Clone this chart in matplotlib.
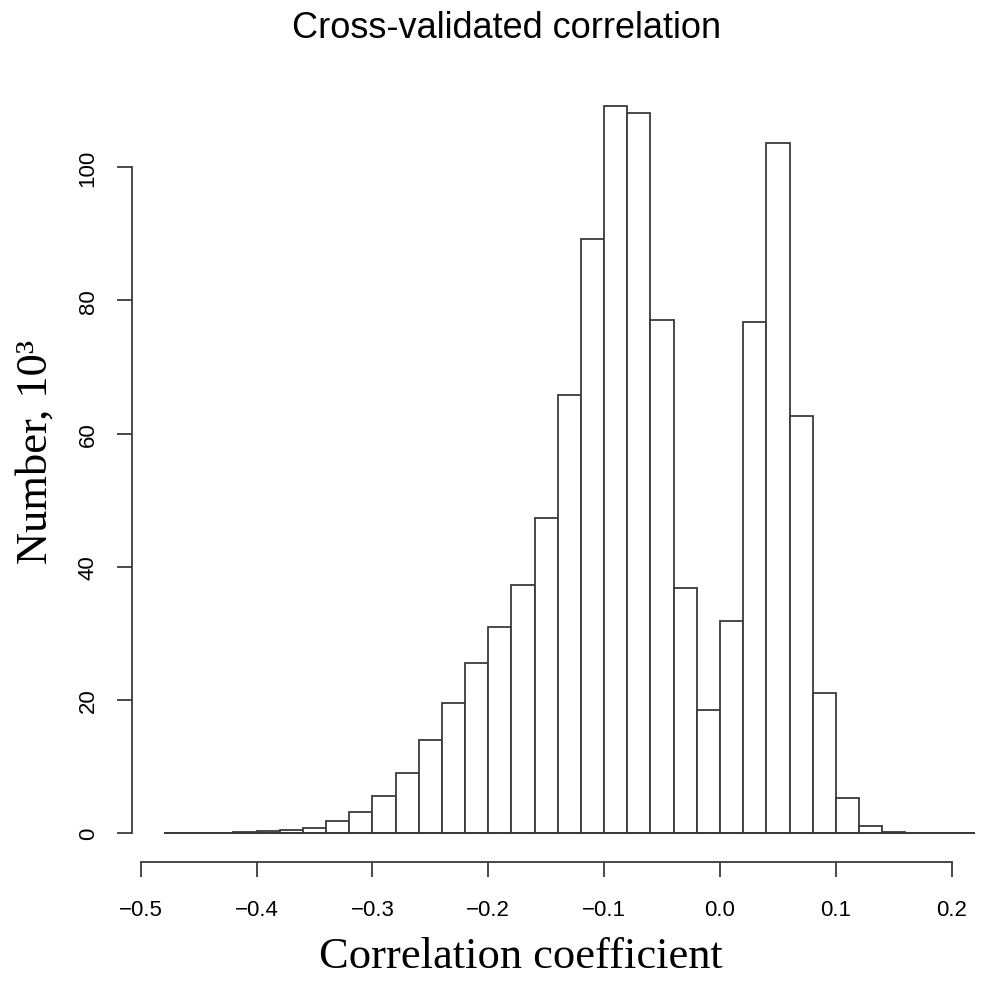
import numpy as np
import matplotlib
matplotlib.use("Agg")
import matplotlib.pyplot as plt

# histogram of cross-validated correlation, counts in thousands
bin_left = np.round(np.arange(-0.48, 0.22, 0.02), 2)
counts = [0.0, 0.0, 0.05, 0.15, 0.25, 0.45, 0.8, 1.75, 3.1, 5.5,
          9.0, 14.0, 19.5, 25.6, 31.0, 37.2, 47.3, 65.8, 89.2, 109.2,
          108.1, 77.0, 36.8, 18.5, 31.8, 76.7, 103.7, 62.6, 21.1, 5.3,
          1.0, 0.2, 0.05, 0.0, 0.0]
bin_width = 0.02
x_ticks = [-0.5, -0.4, -0.3, -0.2, -0.1, 0.0, 0.1, 0.2]
x_ticklabels = ["\u22120.5", "\u22120.4", "\u22120.3", "\u22120.2", "\u22120.1", "0.0", "0.1", "0.2"]
y_ticks = [0, 20, 40, 60, 80, 100]

W, H = 982, 987
fig = plt.figure(figsize=(W / 100, H / 100), dpi=100)

# axes box in pixels: y spine at x=132, x spine at y=862.7
left_px, right_px, bottom_px, top_px = 132, 982, 862.7, 100
ax = fig.add_axes([left_px / W, 1 - bottom_px / H,
                   (right_px - left_px) / W, (bottom_px - top_px) / H])

x0_px, xs = 140.7, 1158.6   # -0.5 at 140.7 px, px per unit
y0_px, ys = 834.0, 6.657    # 0 at 834 px, px per unit
ax.set_xlim(-0.5 + (left_px - x0_px) / xs, -0.5 + (right_px - x0_px) / xs)
ax.set_ylim(-(bottom_px - y0_px) / ys, (y0_px - top_px) / ys)

line_col = "#3a3a3a"
ax.bar(bin_left, counts, width=bin_width, align="edge", color="white",
       edgecolor=line_col, linewidth=1.3)
ax.hlines(0, bin_left[0], bin_left[-1] + bin_width, color=line_col, linewidth=1.3)

for s in ["top", "right"]:
    ax.spines[s].set_visible(False)
ax.spines["left"].set_bounds(0, 100)
ax.spines["bottom"].set_bounds(-0.5, 0.2)
for s in ["left", "bottom"]:
    ax.spines[s].set_color(line_col)
    ax.spines[s].set_linewidth(1.3)

ax.set_xticks(x_ticks)
ax.set_xticklabels(x_ticklabels, fontfamily="Liberation Sans", fontsize=16)
ax.set_yticks(y_ticks)
ax.set_yticklabels([str(v) for v in y_ticks], fontfamily="Liberation Sans",
                   fontsize=16, rotation=90, va="center")
ax.tick_params(axis="both", length=11, width=1.3, color=line_col)
ax.tick_params(axis="x", pad=16)
ax.tick_params(axis="y", pad=13)

fig.text(507 / W, 1 - 29 / H, "Cross-validated correlation",
         fontfamily="Liberation Sans", fontsize=26, ha="center", va="center")
fig.text(521 / W, 1 - 957 / H, "Correlation coefficient",
         fontfamily="Liberation Serif", fontsize=32, ha="center", va="center")
fig.text(36 / W, 1 - 452 / H, "Number, 10\u00b3",
         fontfamily="Liberation Serif", fontsize=32, ha="center", va="center",
         rotation=90)

fig.savefig("out.png", dpi=100)
